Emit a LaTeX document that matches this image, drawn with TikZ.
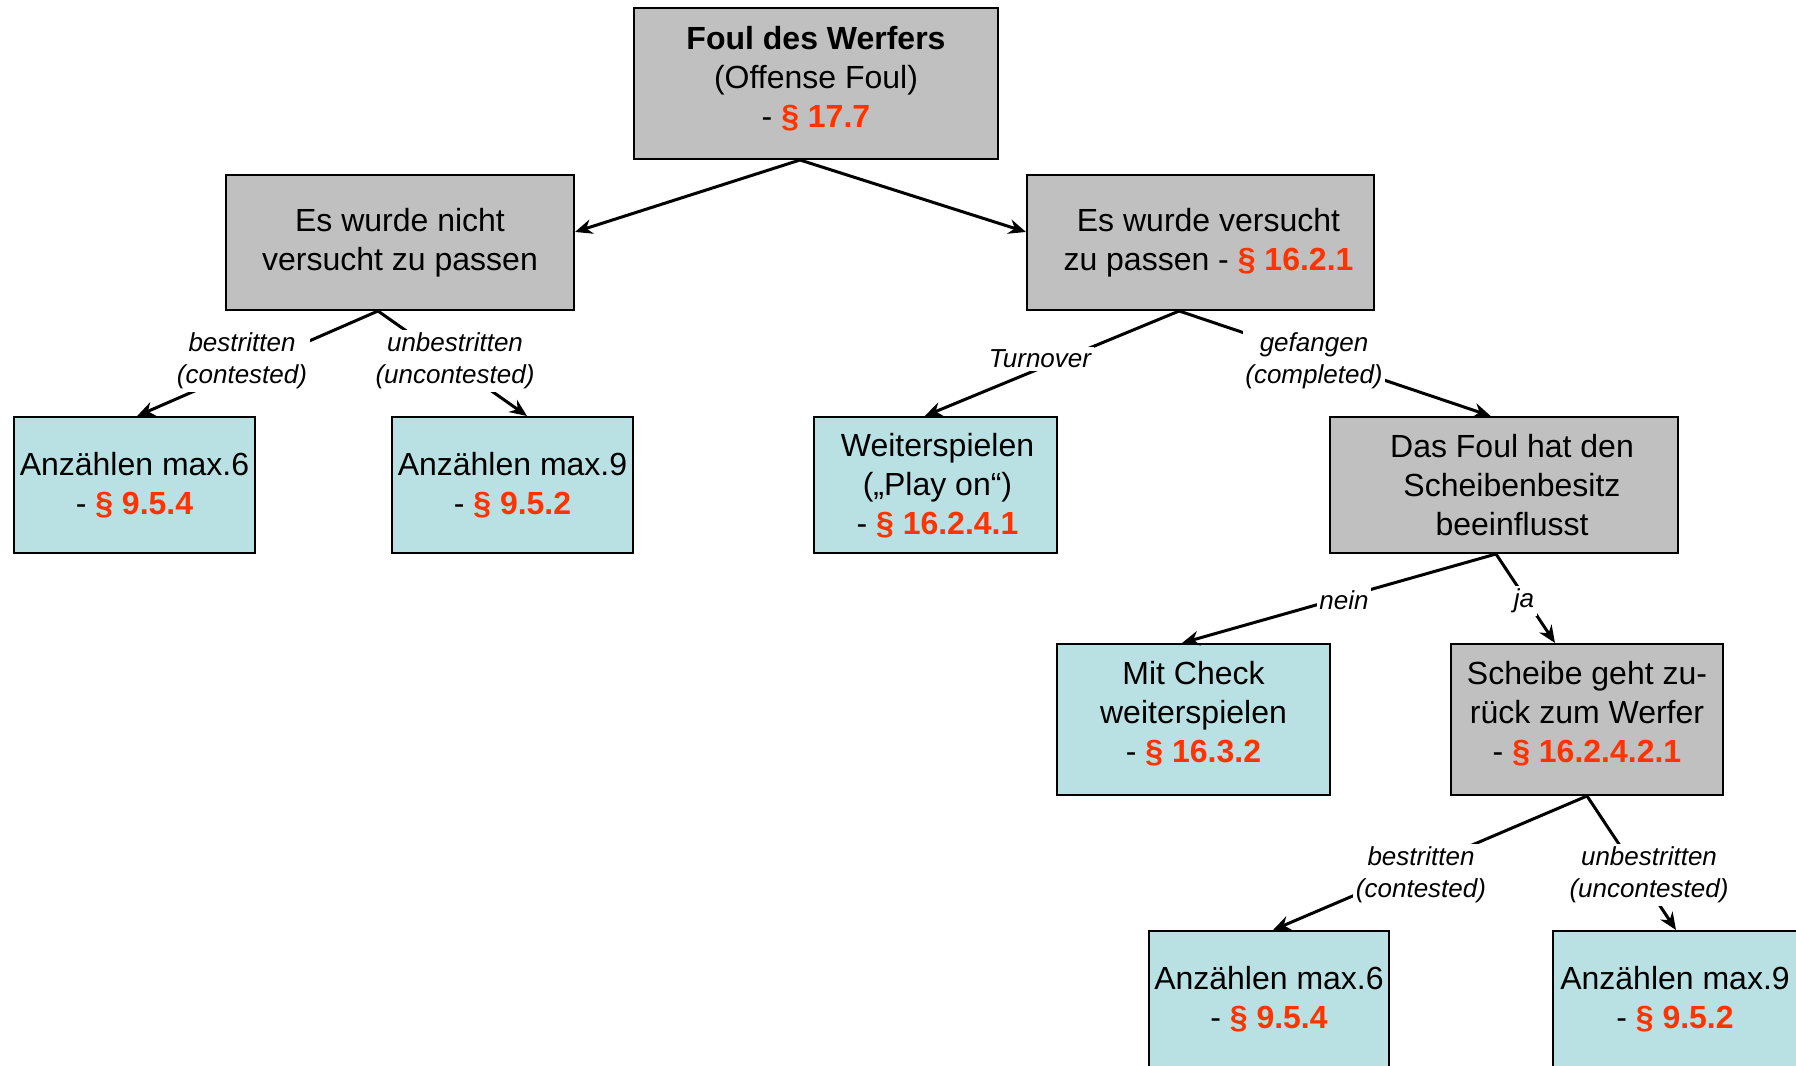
\documentclass[tikz,border=0pt]{standalone}
\usepackage{fontspec}
\setmainfont{Liberation Sans}
\usetikzlibrary{arrows.meta}
\definecolor{boxgray}{HTML}{C0C0C0}
\definecolor{boxcyan}{HTML}{B9E0E3}
\definecolor{secred}{HTML}{FF3300}
\newcommand{\parref}[1]{- \textcolor{secred}{\textbf{§ #1}}}
\newcommand{\ind}{\hspace*{12pt}}
\begin{document}
\begin{tikzpicture}[x=0.75pt,y=-0.75pt,
  box/.style={draw=black,line width=1.5pt,align=center,inner sep=0pt,font=\fontsize{24}{29.25}\selectfont},
  graybox/.style={box,fill=boxgray},
  cyanbox/.style={box,fill=boxcyan},
  conn/.style={line width=2.25pt,-{Stealth[length=13pt,width=11pt]}},
  lbl/.style={fill=white,inner sep=2pt,align=center,font=\fontsize{19.5}{24}\selectfont\itshape}]
\useasboundingbox (0,0) rectangle (1796,1066);
\clip (0,0) rectangle (1796,1066);
\fill[white] (0,0) rectangle (1796,1066);
% boxes
\node[graybox,minimum width=273pt,minimum height=113.25pt,text depth=9.5pt] (top) at (816,83.5)
  {\textbf{Foul des Werfers}\\(Offense Foul)\\\parref{17.7}};
\node[graybox,minimum width=261pt,minimum height=101.25pt] (nicht) at (400,242.5)
  {Es wurde nicht\\versucht zu passen};
\node[graybox,minimum width=260.25pt,minimum height=101.25pt] (vers) at (1200.5,242.5)
  {\ind Es wurde versucht\\\ind zu passen \parref{16.2.1}};
\node[cyanbox,minimum width=180.75pt,minimum height=102pt] (anzsL) at (134.5,485)
  {Anzählen max.6\\\parref{9.5.4}};
\node[cyanbox,minimum width=180.75pt,minimum height=102pt] (anznL) at (512.5,485)
  {Anzählen max.9\\\parref{9.5.2}};
\node[cyanbox,minimum width=182.25pt,minimum height=102pt,text depth=1pt] (weiter) at (935.5,485)
  {\hspace*{3pt}Weiterspielen\\\hspace*{3pt}(„Play on“)\\\hspace*{3pt}\parref{16.2.4.1}};
\node[graybox,minimum width=261pt,minimum height=102pt] (dasfoul) at (1504,485)
  {\ind Das Foul hat den\\\ind Scheibenbesitz\\\ind beeinflusst};
\node[cyanbox,minimum width=204.75pt,minimum height=113.25pt,text depth=11pt] (check) at (1193.5,719.5)
  {Mit Check\\weiterspielen\\\parref{16.3.2}};
\node[graybox,minimum width=204pt,minimum height=113.25pt,text depth=11pt] (scheibe) at (1587,719.5)
  {Scheibe geht zu-\\rück zum Werfer\\\parref{16.2.4.2.1}};
\node[cyanbox,minimum width=180pt,minimum height=102pt] (anzsB) at (1269,999)
  {Anzählen max.6\\\parref{9.5.4}};
\node[cyanbox,minimum width=183pt,minimum height=102pt] (anznB) at (1675,999)
  {Anzählen max.9\\\parref{9.5.2}};
% connectors
\draw[conn] ([xshift=-12pt]top.south) -- ([yshift=7.9pt]nicht.east);
\draw[conn] ([xshift=-12pt]top.south) -- ([yshift=7.9pt]vers.west);
\draw[conn] ([xshift=-16.5pt]nicht.south) -- ([xshift=2pt]anzsL.north);
\draw[conn] ([xshift=-16.5pt]nicht.south) -- ([xshift=10.9pt]anznL.north);
\draw[conn] ([xshift=-16pt]vers.south) -- ([xshift=-8pt]weiter.north);
\draw[conn] ([xshift=-16pt]vers.south) -- ([xshift=-10pt]dasfoul.north);
\draw[conn] ([xshift=-6pt]dasfoul.south) -- ([xshift=-8.6pt]check.north);
\draw[conn] ([xshift=-6pt]dasfoul.south) -- ([xshift=-24pt]scheibe.north);
\draw[conn] (scheibe.south) -- ([xshift=3pt]anzsB.north);
\draw[conn] (scheibe.south) -- ([xshift=0.75pt]anznB.north);
% labels
\node[lbl] (l1) at (242,361) {bestritten\\(contested)};
\node[lbl] (l2) at (455,361) {unbestritten\\(uncontested)};
\node[lbl] (l3) at (1040,359) {Turnover};
\node[lbl] (l4) at (1314,361) {gefangen\\(completed)};
\node[lbl] (l5) at (1344,600) {nein};
\node[lbl] (l6) at (1524,601) {ja};
\node[lbl] (l7) at (1421,875) {bestritten\\(contested)};
\node[lbl] (l8) at (1649,875) {unbestritten\\(uncontested)};
\end{tikzpicture}
\end{document}
